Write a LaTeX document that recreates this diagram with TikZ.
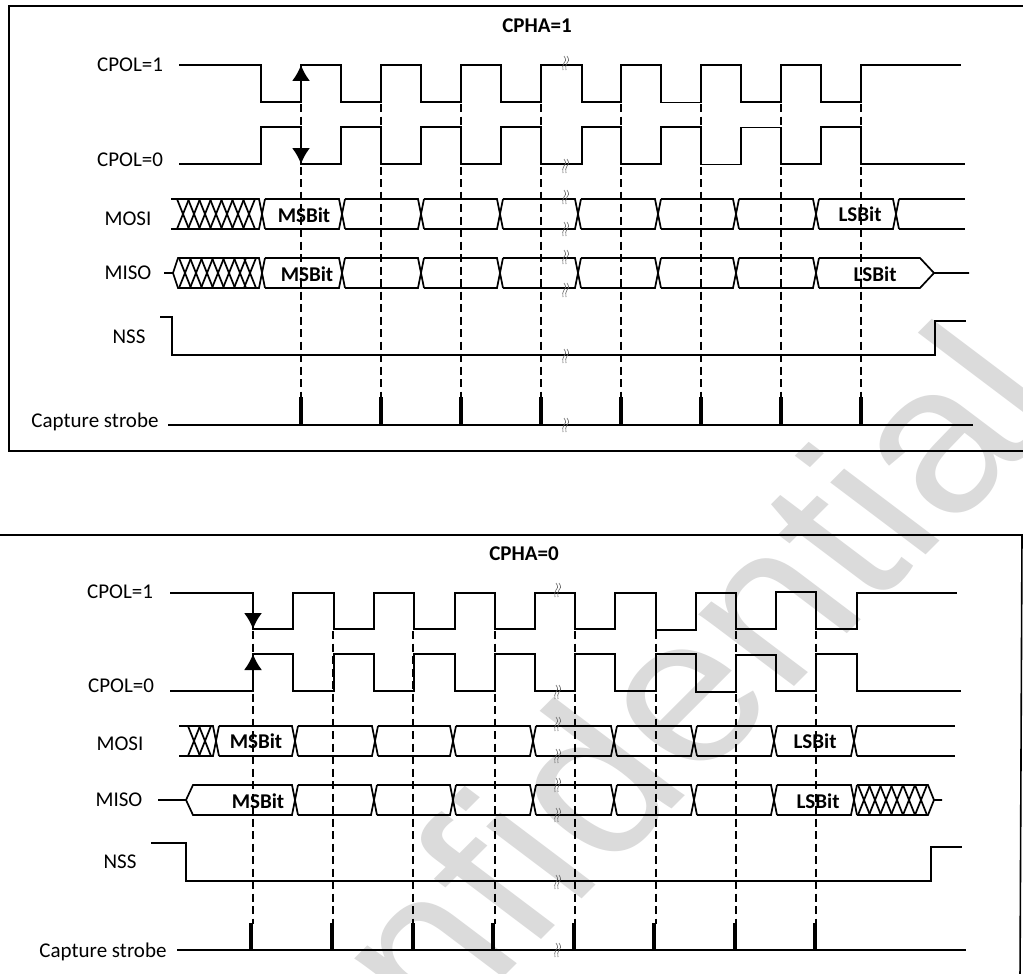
\documentclass[tikz,border=0pt]{standalone}
\usepackage{fontspec}
\setmainfont{Carlito}
\newfontfamily\markfont{Liberation Sans}
\usetikzlibrary{arrows.meta}

\tikzset{
  wave/.style={line width=1.7pt},
  frame/.style={line width=1.6pt},
  guide/.style={line width=1.6pt,dash pattern=on 8pt off 4.5pt},
  strobe/.style={line width=3.4pt},
  breakline/.style={line width=0.6pt,black!60},
  signal/.style={font=\fontsize{21}{25}\selectfont,inner sep=0pt},
  bitname/.style={font=\fontsize{21}{25}\selectfont\bfseries,inner sep=0pt}
}

% one bus cell: left, right, top, bottom (crossing goes 6 to the right)
\newcommand{\buscell}[4]{%
  \draw[wave] (#1,#3) -- (#2,#3) -- (#2+6,#4) (#1,#4) -- (#2,#4) -- (#2+6,#3);}
\newcommand{\hatchx}[3]{%
  \draw[wave] (#1-6,#2) -- (#1+6,#3) (#1-6,#3) -- (#1+6,#2);}
\newcommand{\breakmark}[2]{%
  \draw[breakline,shift={(#1,#2)}] (0,-7) .. controls (3,-3) and (1,-1) .. (0,0) .. controls (-1,2) and (-2,4) .. (-1,7)
    (3,-7) .. controls (6,-3) and (4,-1) .. (3,0) .. controls (2,2) and (1,4) .. (2,7);}

\begin{document}
\begin{tikzpicture}[x=1pt,y=-1pt,>={Latex[length=16pt,width=18pt]}]
  \clip (0,0) rectangle (1023,974);
  \fill[white] (0,0) rectangle (1023,974);

  % watermark
  \begin{scope}[shift={(1074,407)},rotate=45,xslant=-0.14]
    \node[transform shape,text=black!14,inner sep=0pt,font=\fontsize{224}{224}\selectfont\markfont,anchor=base east] (mark) at (0,0) {Confidential};
  \end{scope}

  % CPHA=1 panel
  \draw[frame] (1030,6) -- (9,6) -- (9,451) -- (1030,451);
  \node[bitname] (titleA) at (537,26) {CPHA=1};
  \node[signal] (polAhigh) at (130,65) {CPOL=1};
  \node[signal] (polAlow) at (130,160) {CPOL=0};
  \node[signal] (mosiA) at (128,219) {MOSI};
  \node[signal] (misoA) at (128,273) {MISO};
  \node[signal] (nssA) at (129,337) {NSS};
  \node[signal] (strobeA) at (95,422) {Capture strobe};

  \draw[wave] (179,65) -| (261,102) -| (301,65) -| (341,102) -| (381,65) -| (421,102) -| (461,65) -| (501,102) -| (541,65) -| (582,102) -| (621,65) -| (661,102.5) -| (701,65) -| (741,102) -| (781,65) -| (821,102) -| (861,65) -- (961,65);
  \draw[wave] (179,164) -| (261,127) -| (301,164) -| (341,127) -| (381,164) -| (421,127) -| (461,164) -| (501,127) -| (541,164) -| (582,127) -| (621,164) -| (661,127) -| (701,164.5) -| (741,127.5) -| (781,164) -| (821,127) -| (861,164) -- (965,164);

  % MOSI
  \draw[wave] (171,199) -- (259,199) (171,229) -- (259,229);
  \foreach \c in {183,194,205,216,227,238,249} {\hatchx{\c}{199}{229}}
  \foreach \l/\r in {171/259,265/339,345/418,424/497,503/575,581/655,661/733,739/813,819/893} {\buscell{\l}{\r}{199}{229}}
  \draw[wave] (899,199) -- (965,199) (899,229) -- (965,229);
  \node[bitname] (msbA) at (304,215) {MSBit};
  \node[bitname] (lsbA) at (860,214) {LSBit};

  % MISO
  \draw[wave] (164,273) -- (173,273) -- (178,258) -- (259,258) (173,273) -- (178,288) -- (259,288);
  \foreach \c in {185,196,207,218,229,240,250} {\hatchx{\c}{258}{288}}
  \foreach \l/\r in {178/259,265/339,345/418,424/497,503/575,581/655,661/733,739/813} {\buscell{\l}{\r}{258}{288}}
  \draw[wave] (819,258) -- (920,258) -- (934,273) -- (969,273) (819,288) -- (920,288) -- (934,273);
  \node[bitname] (msbB) at (307,274) {MSBit};
  \node[bitname] (lsbB) at (875,274) {LSBit};

  % NSS, strobe
  \draw[wave] (160,317) -| (172,355) -- (935,355) |- (966,321);
  \draw[wave] (168,425) -- (973,425);

  \foreach \x in {301,381,461,541,621,701,781,861} {
    \draw[guide] (\x,104) -- (\x,398);
    \draw[strobe] (\x,397) -- (\x,426);
  }
  \draw[wave,->] (301,102) -- (301,65);
  \draw[wave,->] (301,127) -- (301,164);
  \foreach \y in {63,166,197,229,257,290,356,425} {\breakmark{564}{\y}}

  % CPHA=0 panel
  \draw[frame] (-2,535) -- (1022,535) -- (1020,980);
  \node[bitname] (titleC) at (524,554) {CPHA=0};
  \node[signal] (polChigh) at (120,592) {CPOL=1};
  \node[signal] (polClow) at (121,686) {CPOL=0};
  \node[signal] (mosiC) at (120,744) {MOSI};
  \node[signal] (misoC) at (119,800) {MISO};
  \node[signal] (nssC) at (120,862) {NSS};
  \node[signal] (strobeC) at (103,952) {Capture strobe};

  \draw[wave] (170,593) -| (253,629) -| (293,593) -| (334,629) -| (374,593) -| (414,629) -| (455,593) -| (495,629) -| (535,593) -| (575,629) -| (615,593) -| (656,630) -| (696,593) -| (736,629) -| (776,592) -| (816,629) -| (857,593) -- (957,593);
  \draw[wave] (170,691) -| (253,654) -| (293,691) -| (334,654) -| (374,691) -| (414,654) -| (455,691) -| (495,654) -| (535,691) -| (575,654) -| (615,691) -| (656,654) -| (696,692) -| (736,655) -| (776,691) -| (816,654) -| (857,691) -- (961,691);

  % MOSI
  \draw[wave] (179,726) -- (213,726) (179,756) -- (213,756);
  \foreach \c in {194,205} {\hatchx{\c}{726}{756}}
  \foreach \l/\r in {179/213,219/292,298/372,378/450,456/530,536/611,617/691,697/771,777/851} {\buscell{\l}{\r}{726}{756}}
  \draw[wave] (857,726) -- (955,726) (857,756) -- (955,756);
  \node[bitname] (msbC) at (256,741) {MSBit};
  \node[bitname] (lsbC) at (815,741) {LSBit};

  % MISO
  \draw[wave] (158,800) -- (186,800) -- (193,785) -- (292,785) (186,800) -- (193,815) -- (292,815);
  \foreach \l/\r in {193/292,298/371,377/450,456/530,536/611,617/691,697/771,777/851} {\buscell{\l}{\r}{785}{815}}
  \draw[wave] (857,785) -- (928,785) -- (934,800) -- (942,800) (857,815) -- (928,815) -- (934,800);
  \foreach \c in {864,875,886,897,909,921} {\hatchx{\c}{785}{815}}
  \node[bitname] (msbD) at (258,801) {MSBit};
  \node[bitname] (lsbD) at (818,801) {LSBit};

  % NSS, strobe
  \draw[wave] (151,843) -| (186,881) -- (931,881) |- (962,847);
  \draw[wave] (177,950) -- (966,950);

  \foreach \x/\s in {253/251,333/332,413/413,495/493,575/574,656/654,736/735,816/815} {
    \draw[guide] (\x,631) -- (\x,924);
    \draw[strobe] (\s,923) -- (\s,951);
  }
  \draw[wave,->] (253,593) -- (253,629);
  \draw[wave,->] (253,691) -- (253,654);
  \foreach \y in {590,692,724,756,785,815,882,950} {\breakmark{556}{\y}}
\end{tikzpicture}
\end{document}
